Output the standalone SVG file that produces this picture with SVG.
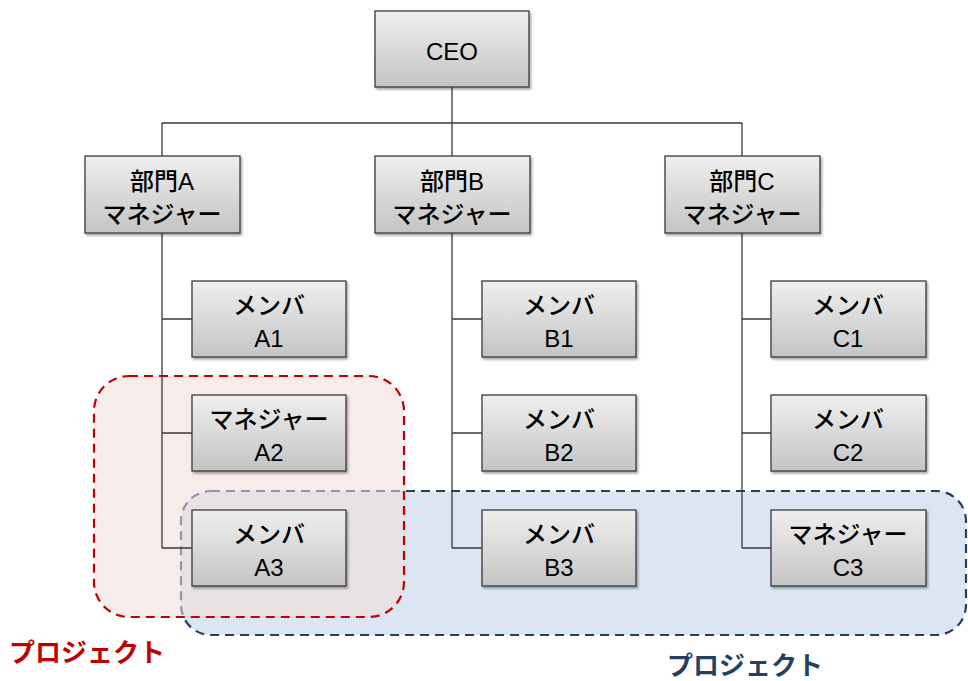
<svg xmlns="http://www.w3.org/2000/svg" width="968" height="681" viewBox="0 0 968 681">
<style>
.node rect{fill:url(#g);stroke:#3a3a3a;stroke-width:1.3;filter:url(#sh)}
.node text{font-family:"Liberation Sans","Noto Sans CJK JP",sans-serif;font-size:24px;fill:#000;text-anchor:middle;font-weight:500}
.conn{stroke:#3a3a3a;stroke-width:1.3;fill:none}
.lbl{font-family:"Noto Sans CJK JP",sans-serif;font-size:26px;font-weight:700}
</style>
<defs>
<linearGradient id="g" x1="0" y1="0" x2="0" y2="1">
<stop offset="0" stop-color="#efefef"/>
<stop offset="1" stop-color="#c4c4c4"/>
</linearGradient>
<filter id="sh" x="-10%" y="-10%" width="125%" height="130%">
<feDropShadow dx="1.5" dy="2" stdDeviation="1.2" flood-color="#000" flood-opacity="0.35"/>
</filter>
</defs>
<g id="projects">
<rect id="projB" x="181" y="491" width="785" height="144" rx="30" fill="#dce6f2" stroke="#243f60" stroke-width="2.2" stroke-dasharray="9 6"/>
<rect id="projA" x="94" y="376" width="310" height="241" rx="35" fill="#f2dcdb" fill-opacity="0.55" stroke="#c00000" stroke-width="2.2" stroke-dasharray="9 6"/>
</g>
<g id="connectors" class="conn">
<path d="M452 87V123M162 123H742M162 123V156M452 123V156M742 123V156"/>
<path d="M162 233V548M162 319H192M162 433H192M162 548H192"/>
<path d="M452 233V548M452 319H482M452 433H482M452 548H482"/>
<path d="M742 233V548M742 319H771M742 433H771M742 548H771"/>
</g>
<g id="ceo" class="node"><rect x="375" y="11" width="154" height="76"/><text x="452" y="60">CEO</text></g>
<g id="mgrA" class="node"><rect x="85" y="156" width="155" height="77"/><text x="162" y="190">部門A</text><text x="162" y="223">マネジャー</text></g>
<g id="mgrB" class="node"><rect x="375" y="156" width="155" height="77"/><text x="452" y="190">部門B</text><text x="452" y="223">マネジャー</text></g>
<g id="mgrC" class="node"><rect x="665" y="156" width="155" height="77"/><text x="742" y="190">部門C</text><text x="742" y="223">マネジャー</text></g>
<g id="a1" class="node"><rect x="192" y="281" width="154" height="76"/><text x="269" y="314">メンバ</text><text x="269" y="347">A1</text></g>
<g id="a2" class="node"><rect x="192" y="395" width="154" height="76"/><text x="269" y="428">マネジャー</text><text x="269" y="461">A2</text></g>
<g id="a3" class="node"><rect x="192" y="510" width="154" height="76"/><text x="269" y="543">メンバ</text><text x="269" y="576">A3</text></g>
<g id="b1" class="node"><rect x="482" y="281" width="154" height="76"/><text x="559" y="314">メンバ</text><text x="559" y="347">B1</text></g>
<g id="b2" class="node"><rect x="482" y="395" width="154" height="76"/><text x="559" y="428">メンバ</text><text x="559" y="461">B2</text></g>
<g id="b3" class="node"><rect x="482" y="510" width="154" height="76"/><text x="559" y="543">メンバ</text><text x="559" y="576">B3</text></g>
<g id="c1" class="node"><rect x="771" y="281" width="155" height="76"/><text x="848" y="314">メンバ</text><text x="848" y="347">C1</text></g>
<g id="c2" class="node"><rect x="771" y="395" width="155" height="76"/><text x="848" y="428">メンバ</text><text x="848" y="461">C2</text></g>
<g id="c3" class="node"><rect x="771" y="510" width="155" height="76"/><text x="848" y="543">マネジャー</text><text x="848" y="576">C3</text></g>
<text class="lbl" x="9" y="662" fill="#c00000">プロジェクト</text>
<text class="lbl" x="667" y="675" fill="#243f60">プロジェクト</text>
</svg>
